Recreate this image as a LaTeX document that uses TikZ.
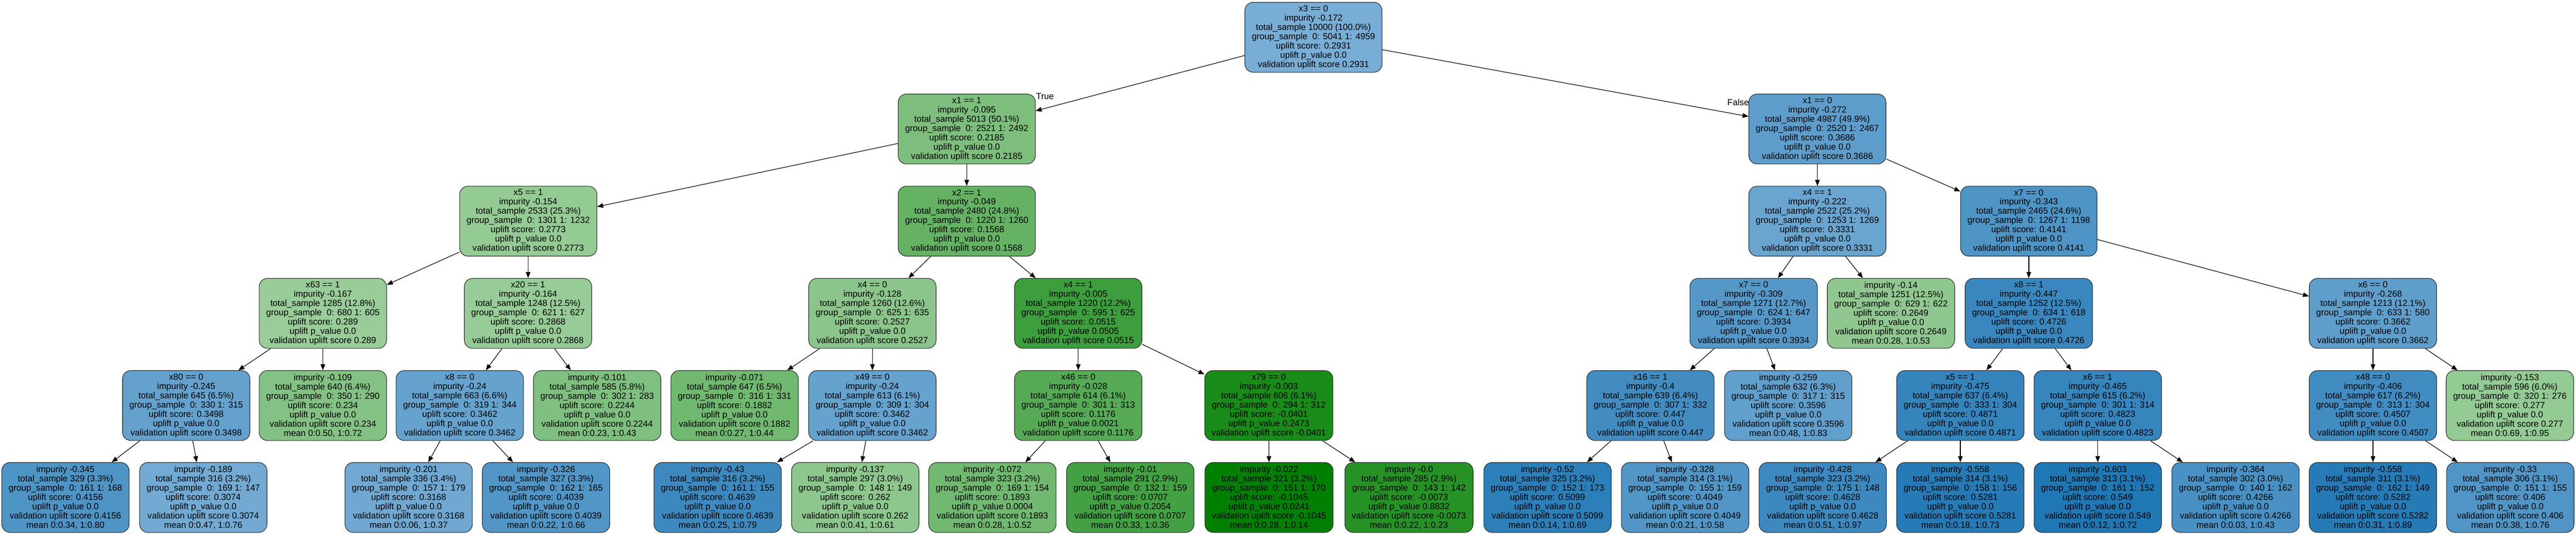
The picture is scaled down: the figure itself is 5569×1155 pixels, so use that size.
\documentclass[tikz,border=0pt]{standalone}
\usepackage{fontspec}
\setmainfont{Liberation Sans}
\usetikzlibrary{arrows.meta}
\definecolor{bD}{RGB}{31,119,180}
\definecolor{bL}{RGB}{121,174,213}
\definecolor{gD}{RGB}{0,127,0}
\definecolor{gL}{RGB}{153,204,153}
\begin{document}
\begin{tikzpicture}[x=1pt,y=-1pt,
  tn/.style={draw=black!85, line width=1.2pt, rounded corners=18pt, align=center,
    inner xsep=15pt, inner ysep=0pt, minimum height=151pt, minimum width=272pt,
    font=\fontsize{19}{20}\selectfont},
  bn/.style={tn, fill=bD!#1!bL},
  gn/.style={tn, fill=gD!#1!gL},
  arr/.style={-{Triangle[length=13pt,width=10pt]}, line width=1.3pt, black},
  lbl/.style={inner sep=0pt, font=\fontsize{19}{20}\selectfont}]
\useasboundingbox[fill=white] (0,0) rectangle (5569,1155);

% level 0
\node[bn=1] (n0) at (2839.5,80.5) {x3 == 0\\impurity -0.172\\total\_sample 10000 (100.0\%)\\group\_sample\ \ 0: 5041 1: 4959\\uplift score: 0.2931\\uplift p\_value 0.0\\validation uplift score 0.2931};

% level 1
\node[gn=18] (L) at (2090,278.5) {x1 == 1\\impurity -0.095\\total\_sample 5013 (50.1\%)\\group\_sample\ \ 0: 2521 1: 2492\\uplift score: 0.2185\\uplift p\_value 0.0\\validation uplift score 0.2185};
\node[bn=30] (R) at (3929,278.5) {x1 == 0\\impurity -0.272\\total\_sample 4987 (49.9\%)\\group\_sample\ \ 0: 2520 1: 2467\\uplift score: 0.3686\\uplift p\_value 0.0\\validation uplift score 0.3686};

% level 2
\node[gn=3] (LL) at (1142,477.5) {x5 == 1\\impurity -0.154\\total\_sample 2533 (25.3\%)\\group\_sample\ \ 0: 1301 1: 1232\\uplift score: 0.2773\\uplift p\_value 0.0\\validation uplift score 0.2773};
\node[gn=34] (LR) at (2090,477.5) {x2 == 1\\impurity -0.049\\total\_sample 2480 (24.8\%)\\group\_sample\ \ 0: 1220 1: 1260\\uplift score: 0.1568\\uplift p\_value 0.0\\validation uplift score 0.1568};
\node[bn=17] (RL) at (3929,477.5) {x4 == 1\\impurity -0.222\\total\_sample 2522 (25.2\%)\\group\_sample\ \ 0: 1253 1: 1269\\uplift score: 0.3331\\uplift p\_value 0.0\\validation uplift score 0.3331};
\node[bn=48] (RR) at (4386,477.5) {x7 == 0\\impurity -0.343\\total\_sample 2465 (24.6\%)\\group\_sample\ \ 0: 1267 1: 1198\\uplift score: 0.4141\\uplift p\_value 0.0\\validation uplift score 0.4141};

% level 3
\node[gn=0] (x63) at (698,676.5) {x63 == 1\\impurity -0.167\\total\_sample 1285 (12.8\%)\\group\_sample\ \ 0: 680 1: 605\\uplift score: 0.289\\uplift p\_value 0.0\\validation uplift score 0.289};
\node[gn=1] (x20) at (1141.5,676.5) {x20 == 1\\impurity -0.164\\total\_sample 1248 (12.5\%)\\group\_sample\ \ 0: 621 1: 627\\uplift score: 0.2868\\uplift p\_value 0.0\\validation uplift score 0.2868};
\node[gn=9] (x40) at (1886,676.5) {x4 == 0\\impurity -0.128\\total\_sample 1260 (12.6\%)\\group\_sample\ \ 0: 625 1: 635\\uplift score: 0.2527\\uplift p\_value 0.0\\validation uplift score 0.2527};
\node[gn=60] (x41) at (2331,676.5) {x4 == 1\\impurity -0.005\\total\_sample 1220 (12.2\%)\\group\_sample\ \ 0: 595 1: 625\\uplift score: 0.0515\\uplift p\_value 0.0505\\validation uplift score 0.0515};
\node[bn=40] (x7a) at (3791,676.5) {x7 == 0\\impurity -0.309\\total\_sample 1271 (12.7\%)\\group\_sample\ \ 0: 624 1: 647\\uplift score: 0.3934\\uplift p\_value 0.0\\validation uplift score 0.3934};
\node[gn=6] (l14) at (4088,676.5) {impurity -0.14\\total\_sample 1251 (12.5\%)\\group\_sample\ \ 0: 629 1: 622\\uplift score: 0.2649\\uplift p\_value 0.0\\validation uplift score 0.2649\\mean 0:0.28, 1:0.53};
\node[bn=71] (x81) at (4386,676.5) {x8 == 1\\impurity -0.447\\total\_sample 1252 (12.5\%)\\group\_sample\ \ 0: 634 1: 618\\uplift score: 0.4726\\uplift p\_value 0.0\\validation uplift score 0.4726};
\node[bn=29] (x60) at (5130,676.5) {x6 == 0\\impurity -0.268\\total\_sample 1213 (12.1\%)\\group\_sample\ \ 0: 633 1: 580\\uplift score: 0.3662\\uplift p\_value 0.0\\validation uplift score 0.3662};

% level 4
\node[bn=23] (x80) at (402.5,875.5) {x80 == 0\\impurity -0.245\\total\_sample 645 (6.5\%)\\group\_sample\ \ 0: 330 1: 315\\uplift score: 0.3498\\uplift p\_value 0.0\\validation uplift score 0.3498};
\node[gn=14] (l109) at (698,875.5) {impurity -0.109\\total\_sample 640 (6.4\%)\\group\_sample\ \ 0: 350 1: 290\\uplift score: 0.234\\uplift p\_value 0.0\\validation uplift score 0.234\\mean 0:0.50, 1:0.72};
\node[bn=22] (x8b) at (994,875.5) {x8 == 0\\impurity -0.24\\total\_sample 663 (6.6\%)\\group\_sample\ \ 0: 319 1: 344\\uplift score: 0.3462\\uplift p\_value 0.0\\validation uplift score 0.3462};
\node[gn=17] (l101) at (1291,875.5) {impurity -0.101\\total\_sample 585 (5.8\%)\\group\_sample\ \ 0: 302 1: 283\\uplift score: 0.2244\\uplift p\_value 0.0\\validation uplift score 0.2244\\mean 0:0.23, 1:0.43};
\node[gn=26] (l071) at (1588,875.5) {impurity -0.071\\total\_sample 647 (6.5\%)\\group\_sample\ \ 0: 316 1: 331\\uplift score: 0.1882\\uplift p\_value 0.0\\validation uplift score 0.1882\\mean 0:0.27, 1:0.44};
\node[bn=22] (x49) at (1886,875.5) {x49 == 0\\impurity -0.24\\total\_sample 613 (6.1\%)\\group\_sample\ \ 0: 309 1: 304\\uplift score: 0.3462\\uplift p\_value 0.0\\validation uplift score 0.3462};
\node[gn=44] (x46) at (2331,875.5) {x46 == 0\\impurity -0.028\\total\_sample 614 (6.1\%)\\group\_sample\ \ 0: 301 1: 313\\uplift score: 0.1176\\uplift p\_value 0.0021\\validation uplift score 0.1176};
\node[gn=84] (x79) at (2743,875.5) {x79 == 0\\impurity -0.003\\total\_sample 606 (6.1\%)\\group\_sample\ \ 0: 294 1: 312\\uplift score: -0.0401\\uplift p\_value 0.2473\\validation uplift score -0.0401};
\node[bn=61] (x16) at (3568,875.5) {x16 == 1\\impurity -0.4\\total\_sample 639 (6.4\%)\\group\_sample\ \ 0: 307 1: 332\\uplift score: 0.447\\uplift p\_value 0.0\\validation uplift score 0.447};
\node[bn=27] (l259) at (3866,875.5) {impurity -0.259\\total\_sample 632 (6.3\%)\\group\_sample\ \ 0: 317 1: 315\\uplift score: 0.3596\\uplift p\_value 0.0\\validation uplift score 0.3596\\mean 0:0.48, 1:0.83};
\node[bn=76] (x51) at (4238,875.5) {x5 == 1\\impurity -0.475\\total\_sample 637 (6.4\%)\\group\_sample\ \ 0: 333 1: 304\\uplift score: 0.4871\\uplift p\_value 0.0\\validation uplift score 0.4871};
\node[bn=74] (x61) at (4535,875.5) {x6 == 1\\impurity -0.465\\total\_sample 615 (6.2\%)\\group\_sample\ \ 0: 301 1: 314\\uplift score: 0.4823\\uplift p\_value 0.0\\validation uplift score 0.4823};
\node[bn=62] (x48) at (5130,875.5) {x48 == 0\\impurity -0.406\\total\_sample 617 (6.2\%)\\group\_sample\ \ 0: 313 1: 304\\uplift score: 0.4507\\uplift p\_value 0.0\\validation uplift score 0.4507};
\node[gn=3] (l153) at (5426,875.5) {impurity -0.153\\total\_sample 596 (6.0\%)\\group\_sample\ \ 0: 320 1: 276\\uplift score: 0.277\\uplift p\_value 0.0\\validation uplift score 0.277\\mean 0:0.69, 1:0.95};

% level 5
\node[bn=48] (l345) at (141.5,1074) {impurity -0.345\\total\_sample 329 (3.3\%)\\group\_sample\ \ 0: 161 1: 168\\uplift score: 0.4156\\uplift p\_value 0.0\\validation uplift score 0.4156\\mean 0:0.34, 1:0.80};
\node[bn=7] (l189) at (439.5,1074) {impurity -0.189\\total\_sample 316 (3.2\%)\\group\_sample\ \ 0: 169 1: 147\\uplift score: 0.3074\\uplift p\_value 0.0\\validation uplift score 0.3074\\mean 0:0.47, 1:0.76};
\node[bn=10] (l201) at (883.5,1074) {impurity -0.201\\total\_sample 336 (3.4\%)\\group\_sample\ \ 0: 157 1: 179\\uplift score: 0.3168\\uplift p\_value 0.0\\validation uplift score 0.3168\\mean 0:0.06, 1:0.37};
\node[bn=44] (l326) at (1180.5,1074) {impurity -0.326\\total\_sample 327 (3.3\%)\\group\_sample\ \ 0: 162 1: 165\\uplift score: 0.4039\\uplift p\_value 0.0\\validation uplift score 0.4039\\mean 0:0.22, 1:0.66};
\node[bn=67] (l43) at (1551.5,1074) {impurity -0.43\\total\_sample 316 (3.2\%)\\group\_sample\ \ 0: 161 1: 155\\uplift score: 0.4639\\uplift p\_value 0.0\\validation uplift score 0.4639\\mean 0:0.25, 1:0.79};
\node[gn=7] (l137) at (1849,1074) {impurity -0.137\\total\_sample 297 (3.0\%)\\group\_sample\ \ 0: 148 1: 149\\uplift score: 0.262\\uplift p\_value 0.0\\validation uplift score 0.262\\mean 0:0.41, 1:0.61};
\node[gn=26] (l072) at (2145.5,1074) {impurity -0.072\\total\_sample 323 (3.2\%)\\group\_sample\ \ 0: 169 1: 154\\uplift score: 0.1893\\uplift p\_value 0.0004\\validation uplift score 0.1893\\mean 0:0.28, 1:0.52};
\node[gn=56] (l01) at (2443.5,1074) {impurity -0.01\\total\_sample 291 (2.9\%)\\group\_sample\ \ 0: 132 1: 159\\uplift score: 0.0707\\uplift p\_value 0.2054\\validation uplift score 0.0707\\mean 0:0.33, 1:0.36};
\node[gn=100] (l022) at (2743.5,1074) {impurity -0.022\\total\_sample 321 (3.2\%)\\group\_sample\ \ 0: 151 1: 170\\uplift score: -0.1045\\uplift p\_value 0.0241\\validation uplift score -0.1045\\mean 0:0.28, 1:0.14};
\node[gn=75] (l00) at (3046,1074) {impurity -0.0\\total\_sample 285 (2.9\%)\\group\_sample\ \ 0: 143 1: 142\\uplift score: -0.0073\\uplift p\_value 0.8832\\validation uplift score -0.0073\\mean 0:0.22, 1:0.23};
\node[bn=85] (l52) at (3345.5,1074) {impurity -0.52\\total\_sample 325 (3.2\%)\\group\_sample\ \ 0: 152 1: 173\\uplift score: 0.5099\\uplift p\_value 0.0\\validation uplift score 0.5099\\mean 0:0.14, 1:0.69};
\node[bn=44] (l328) at (3643,1074) {impurity -0.328\\total\_sample 314 (3.1\%)\\group\_sample\ \ 0: 155 1: 159\\uplift score: 0.4049\\uplift p\_value 0.0\\validation uplift score 0.4049\\mean 0:0.21, 1:0.58};
\node[bn=67] (l428) at (3940.5,1074) {impurity -0.428\\total\_sample 323 (3.2\%)\\group\_sample\ \ 0: 175 1: 148\\uplift score: 0.4628\\uplift p\_value 0.0\\validation uplift score 0.4628\\mean 0:0.51, 1:0.97};
\node[bn=92] (l558) at (4238,1074) {impurity -0.558\\total\_sample 314 (3.1\%)\\group\_sample\ \ 0: 158 1: 156\\uplift score: 0.5281\\uplift p\_value 0.0\\validation uplift score 0.5281\\mean 0:0.18, 1:0.73};
\node[bn=100] (l603) at (4535,1074) {impurity -0.603\\total\_sample 313 (3.1\%)\\group\_sample\ \ 0: 161 1: 152\\uplift score: 0.549\\uplift p\_value 0.0\\validation uplift score 0.549\\mean 0:0.12, 1:0.72};
\node[bn=53] (l364) at (4833,1074) {impurity -0.364\\total\_sample 302 (3.0\%)\\group\_sample\ \ 0: 140 1: 162\\uplift score: 0.4266\\uplift p\_value 0.0\\validation uplift score 0.4266\\mean 0:0.03, 1:0.43};
\node[bn=92] (l558b) at (5130,1074) {impurity -0.558\\total\_sample 311 (3.1\%)\\group\_sample\ \ 0: 162 1: 149\\uplift score: 0.5282\\uplift p\_value 0.0\\validation uplift score 0.5282\\mean 0:0.31, 1:0.89};
\node[bn=45] (l33) at (5427,1074) {impurity -0.33\\total\_sample 306 (3.1\%)\\group\_sample\ \ 0: 151 1: 155\\uplift score: 0.406\\uplift p\_value 0.0\\validation uplift score 0.406\\mean 0:0.38, 1:0.76};

% edges
\draw[arr] (n0) -- (L);
\draw[arr] (n0) -- (R);
\draw[arr] (L) -- (LL);
\draw[arr] (L) -- (LR);
\draw[arr] (R) -- (RL);
\draw[arr] (R) -- (RR);
\draw[arr] (LL) -- (x63);
\draw[arr] (LL) -- (x20);
\draw[arr] (LR) -- (x40);
\draw[arr] (LR) -- (x41);
\draw[arr] (RL) -- (x7a);
\draw[arr] (RL) -- (l14);
\draw[arr] (RR) -- (x81);
\draw[arr] (RR) -- (x60);
\draw[arr] (x63) -- (x80);
\draw[arr] (x63) -- (l109);
\draw[arr] (x20) -- (x8b);
\draw[arr] (x20) -- (l101);
\draw[arr] (x40) -- (l071);
\draw[arr] (x40) -- (x49);
\draw[arr] (x41) -- (x46);
\draw[arr] (x41) -- (x79);
\draw[arr] (x7a) -- (x16);
\draw[arr] (x7a) -- (l259);
\draw[arr] (x81) -- (x51);
\draw[arr] (x81) -- (x61);
\draw[arr] (x60) -- (x48);
\draw[arr] (x60) -- (l153);
\draw[arr] (x80) -- (l345);
\draw[arr] (x80) -- (l189);
\draw[arr] (x8b) -- (l201);
\draw[arr] (x8b) -- (l326);
\draw[arr] (x49) -- (l43);
\draw[arr] (x49) -- (l137);
\draw[arr] (x46) -- (l072);
\draw[arr] (x46) -- (l01);
\draw[arr] (x79) -- (l022);
\draw[arr] (x79) -- (l00);
\draw[arr] (x16) -- (l52);
\draw[arr] (x16) -- (l328);
\draw[arr] (x51) -- (l428);
\draw[arr] (x51) -- (l558);
\draw[arr] (x61) -- (l603);
\draw[arr] (x61) -- (l364);
\draw[arr] (x48) -- (l558b);
\draw[arr] (x48) -- (l33);

% branch labels
\node[lbl, anchor=west] (tTrue) at ([xshift=1pt,yshift=-6pt]L.north east) {True};
\node[lbl, anchor=east] (tFalse) at ([xshift=1pt,yshift=-19pt]R.north west) {False};
\end{tikzpicture}
\end{document}
